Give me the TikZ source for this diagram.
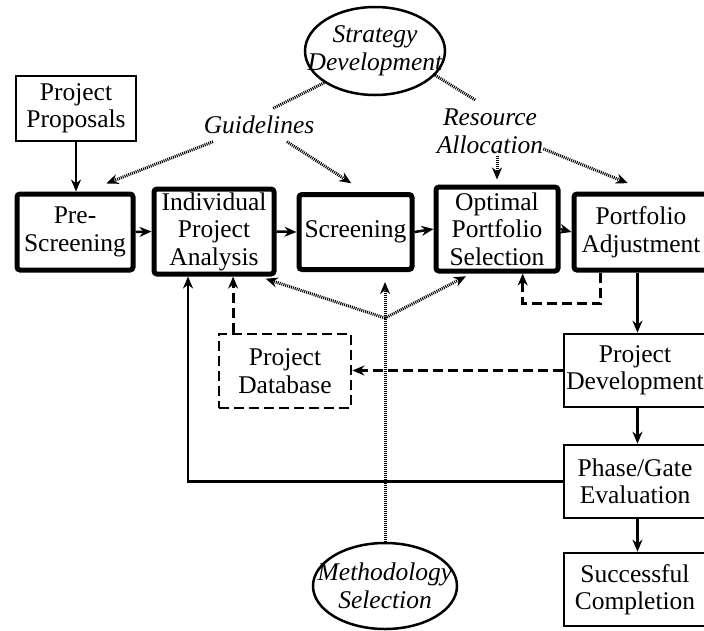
\documentclass[tikz,border=0pt]{standalone}
\usepackage{fontspec}
\setmainfont{Liberation Serif}
\usepackage{tikz}
\usetikzlibrary{shapes.geometric,arrows.meta,calc}

\begin{document}
\begin{tikzpicture}[x=1pt,y=1pt,
    every node/.style={font=\fontsize{25.5}{27.5}\selectfont, align=center, inner sep=0pt},
    bigbox/.style={draw, line width=5pt, rounded corners=3pt},
    thinbox/.style={draw, line width=2.6pt},
    dbbox/.style={draw, line width=2.8pt, dash pattern=on 10pt off 5pt},
    oval/.style={draw, ellipse, line width=2.5pt, font=\fontsize{25.5}{27.5}\selectfont\itshape},
    lbl/.style={font=\fontsize{25.5}{27.5}\selectfont\itshape},
    arr/.style={line width=2.5pt, -{Stealth[length=12pt,width=10pt]}},
    dotln/.style={line width=3pt, dash pattern=on 1pt off 1pt},
    dotarr/.style={dotln, -{Stealth[length=12pt,width=10pt]}},
    dasharr/.style={line width=2.8pt, dash pattern=on 10pt off 5pt, -{Stealth[length=12pt,width=10pt]}}]
    \useasboundingbox (0,0) rectangle (704,-630);

    \node[oval, minimum width=140pt, minimum height=88pt] (strat) at (375,-51) {\makebox[0pt]{Strategy}\\\makebox[0pt]{Development}};
    \node[oval, minimum width=144pt, minimum height=86pt] (meth) at (385,-586) {\makebox[0pt]{Methodology}\\\makebox[0pt]{Selection}};
    \node[lbl] (guide) at (259,-124.5) {Guidelines};
    \node[lbl] (res) at (490,-131.5) {Resource\\Allocation};

    \node[thinbox, minimum width=120pt, minimum height=65pt] (prop) at (76,-108.5) {Project\\Proposals};
    \node[bigbox, minimum width=116pt, minimum height=76pt] (pre) at (75,-232) {Pre-\\Screening};
    \node[bigbox, minimum width=120pt, minimum height=85pt] (ipa) at (214,-231.5) {Individual\\Project\\Analysis};
    \node[bigbox, minimum width=113pt, minimum height=75pt] (scr) at (355.5,-232) {Screening};
    \node[bigbox, minimum width=122pt, minimum height=84pt] (opt) at (497,-229) {Optimal\\Portfolio\\Selection};
    \node[bigbox, minimum width=134pt, minimum height=76pt] (padj) at (641,-232) {Portfolio\\Adjustment};
    \node[thinbox, minimum width=142pt, minimum height=73pt] (pdev) at (635,-370.5) {Project\\Development};
    \node[thinbox, minimum width=142pt, minimum height=73pt] (pge) at (635,-481.5) {Phase/Gate\\Evaluation};
    \node[thinbox, minimum width=142pt, minimum height=73pt] (succ) at (635,-589.5) {Successful\\Completion};
    \node[dbbox, minimum width=132pt, minimum height=74pt] (pdb) at (285,-371) {Project\\Database};
    \coordinate (mj) at (385,-318);

    \draw[arr] (prop.south) -- (prop.south |- pre.north);
    \draw[arr] (pre.east) -- (ipa.west);
    \draw[arr] (ipa.east) -- (scr.west);
    \draw[arr] (scr.east) -- (opt.west);
    \draw[arr] (opt.east) -- (padj.west);
    \draw[arr] (padj.-95) -- (padj.-95 |- pdev.north);
    \draw[arr] (pdev.south -| padj.-95) -- (pge.north -| padj.-95);
    \draw[arr] (pge.south -| padj.-95) -- (succ.north -| padj.-95);
    \draw[arr] (pge.west) -| (ipa.-120);

    \draw[dasharr] (padj.-135) -- ++(0,-31) -| (opt.-60);
    \draw[dasharr] (pdev.west) -- (pdev.west -| pdb.east);
    \draw[dasharr] (pdb.north -| ipa.-67) -- (ipa.-67);

    \draw[dotln, shorten >=15pt] (strat.212) -- (guide.north);
    \draw[dotarr, shorten >=22pt] ($(guide.south)+(-46,-8)$) -- (pre.75);
    \draw[dotarr, shorten >=16pt] ($(guide.south)+(28,-8)$) -- (scr.77);
    \draw[dotln, shorten >=17pt] (strat.-22) -- (res.north);
    \draw[dotarr, shorten <=2pt, shorten >=5pt] (res.south -| opt.north) -- (opt.north);
    \draw[dotarr, shorten >=22pt] (res.-18) -- (padj.80);
    \draw[dotarr, shorten >=10pt] (meth.north) -- (meth.north |- scr.south);
    \draw[dotarr, shorten >=7pt] (mj) -- (ipa.-45);
    \draw[dotarr, shorten >=6pt] (mj) -- (opt.-120);
\end{tikzpicture}
\end{document}
